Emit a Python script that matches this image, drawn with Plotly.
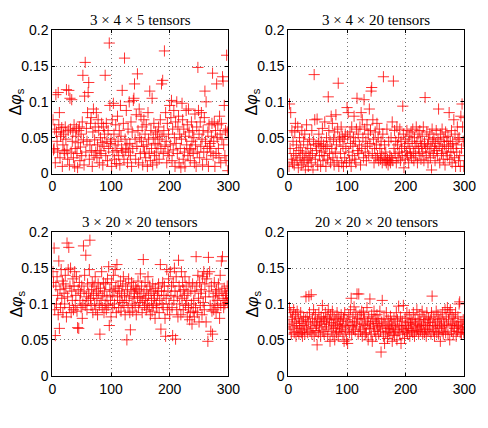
import plotly.graph_objects as go

titles = ["3 × 4 × 5 tensors", "3 × 4 × 20 tensors", "3 × 20 × 20 tensors", "20 × 20 × 20 tensors"]
x_ticks = [0, 100, 200, 300]
y_ticks = [0, 0.05, 0.1, 0.15, 0.2]
y_tick_text = ["0", "0.05", "0.1", "0.15", "0.2"]

dphi_3x4x5 = [
    0.075, 0.033, 0.035, 0.062, 0.015, 0.110, 0.058, 0.045, 0.030, 0.113, 0.068, 0.085, 0.022, 0.052, 0.058, 0.064, 0.010, 0.040, 0.055, 0.032, 0.028, 0.065, 0.048, 0.117, 0.033, 0.020, 0.060, 0.116, 0.012, 0.105,
    0.062, 0.030, 0.103, 0.045, 0.058, 0.022, 0.068, 0.010, 0.035, 0.052, 0.063, 0.028, 0.008, 0.043, 0.060, 0.065, 0.018, 0.037, 0.055, 0.025, 0.072, 0.137, 0.047, 0.012, 0.108, 0.155, 0.030, 0.063, 0.045, 0.085,
    0.113, 0.127, 0.020, 0.040, 0.070, 0.078, 0.032, 0.010, 0.058, 0.090, 0.025, 0.047, 0.065, 0.030, 0.085, 0.022, 0.040, 0.075, 0.060, 0.015, 0.032, 0.050, 0.028, 0.070, 0.043, 0.012, 0.065, 0.038, 0.055, 0.137,
    0.025, 0.070, 0.045, 0.018, 0.060, 0.035, 0.182, 0.095, 0.042, 0.048, 0.010, 0.075, 0.030, 0.098, 0.055, 0.020, 0.040, 0.068, 0.014, 0.032, 0.080, 0.045, 0.025, 0.060, 0.012, 0.095, 0.052, 0.035, 0.116, 0.030,
    0.070, 0.020, 0.161, 0.048, 0.033, 0.088, 0.040, 0.015, 0.062, 0.030, 0.100, 0.042, 0.025, 0.072, 0.010, 0.058, 0.035, 0.102, 0.105, 0.125, 0.048, 0.020, 0.082, 0.038, 0.139, 0.060, 0.015, 0.090, 0.050, 0.028,
    0.080, 0.045, 0.065, 0.012, 0.038, 0.075, 0.030, 0.055, 0.022, 0.068, 0.040, 0.010, 0.085, 0.048, 0.028, 0.115, 0.018, 0.060, 0.035, 0.105, 0.012, 0.050, 0.070, 0.025, 0.042, 0.058, 0.030, 0.015, 0.055, 0.040,
    0.065, 0.020, 0.048, 0.075, 0.035, 0.125, 0.052, 0.130, 0.028, 0.060, 0.171, 0.038, 0.085, 0.045, 0.015, 0.070, 0.030, 0.055, 0.025, 0.095, 0.040, 0.078, 0.102, 0.018, 0.062, 0.033, 0.088, 0.050, 0.010, 0.072,
    0.042, 0.100, 0.028, 0.065, 0.080, 0.015, 0.055, 0.035, 0.008, 0.048, 0.098, 0.075, 0.020, 0.062, 0.030, 0.010, 0.052, 0.088, 0.040, 0.068, 0.025, 0.090, 0.058, 0.033, 0.018, 0.035, 0.072, 0.045, 0.060, 0.028,
    0.050, 0.015, 0.083, 0.040, 0.010, 0.065, 0.030, 0.148, 0.088, 0.055, 0.022, 0.072, 0.038, 0.085, 0.048, 0.012, 0.060, 0.030, 0.078, 0.115, 0.045, 0.100, 0.020, 0.035, 0.058, 0.010, 0.068, 0.038, 0.042, 0.030,
    0.052, 0.070, 0.140, 0.025, 0.045, 0.072, 0.010, 0.060, 0.028, 0.125, 0.050, 0.068, 0.035, 0.022, 0.080, 0.055, 0.015, 0.070, 0.048, 0.135, 0.129, 0.040, 0.095, 0.025, 0.060, 0.018, 0.165, 0.058, 0.004, 0.062,
]

dphi_3x4x20 = [
    0.010, 0.097, 0.035, 0.085, 0.020, 0.060, 0.015, 0.045, 0.028, 0.012, 0.058, 0.070, 0.025, 0.040, 0.018, 0.065, 0.008, 0.032, 0.050, 0.022, 0.036, 0.012, 0.060, 0.028, 0.015, 0.045, 0.020, 0.055, 0.005, 0.030,
    0.068, 0.018, 0.040, 0.010, 0.025, 0.048, 0.022, 0.035, 0.015, 0.060, 0.028, 0.005, 0.045, 0.138, 0.075, 0.020, 0.040, 0.032, 0.076, 0.012, 0.042, 0.055, 0.025, 0.038, 0.010, 0.045, 0.030, 0.063, 0.018, 0.040,
    0.025, 0.072, 0.035, 0.010, 0.050, 0.038, 0.020, 0.107, 0.060, 0.028, 0.045, 0.015, 0.080, 0.035, 0.070, 0.022, 0.048, 0.012, 0.058, 0.030, 0.082, 0.040, 0.018, 0.062, 0.126, 0.010, 0.050, 0.045, 0.028, 0.065,
    0.015, 0.052, 0.038, 0.010, 0.048, 0.022, 0.055, 0.035, 0.015, 0.092, 0.052, 0.085, 0.030, 0.018, 0.058, 0.042, 0.010, 0.065, 0.025, 0.038, 0.050, 0.080, 0.020, 0.045, 0.015, 0.062, 0.105, 0.032, 0.055, 0.028,
    0.040, 0.065, 0.012, 0.085, 0.035, 0.075, 0.050, 0.022, 0.103, 0.062, 0.030, 0.045, 0.018, 0.068, 0.038, 0.055, 0.025, 0.090, 0.042, 0.060, 0.115, 0.120, 0.028, 0.075, 0.048, 0.015, 0.035, 0.058, 0.022, 0.040,
    0.070, 0.025, 0.050, 0.018, 0.062, 0.035, 0.020, 0.045, 0.028, 0.015, 0.055, 0.135, 0.022, 0.040, 0.018, 0.030, 0.015, 0.062, 0.020, 0.012, 0.045, 0.018, 0.025, 0.015, 0.050, 0.022, 0.072, 0.018, 0.129, 0.035,
    0.060, 0.028, 0.045, 0.015, 0.065, 0.040, 0.022, 0.050, 0.030, 0.062, 0.018, 0.045, 0.035, 0.025, 0.094, 0.055, 0.008, 0.038, 0.020, 0.048, 0.030, 0.060, 0.025, 0.042, 0.015, 0.052, 0.035, 0.028, 0.058, 0.022,
    0.045, 0.062, 0.030, 0.018, 0.050, 0.038, 0.025, 0.065, 0.042, 0.015, 0.055, 0.035, 0.028, 0.060, 0.045, 0.020, 0.038, 0.052, 0.030, 0.065, 0.018, 0.042, 0.106, 0.035, 0.025, 0.058, 0.040, 0.015, 0.048, 0.030,
    0.055, 0.022, 0.038, 0.005, 0.062, 0.045, 0.028, 0.050, 0.035, 0.018, 0.042, 0.060, 0.032, 0.025, 0.048, 0.090, 0.038, 0.015, 0.055, 0.045, 0.028, 0.062, 0.035, 0.020, 0.050, 0.040, 0.012, 0.058, 0.030, 0.045,
    0.025, 0.052, 0.038, 0.085, 0.020, 0.045, 0.030, 0.060, 0.015, 0.042, 0.035, 0.075, 0.022, 0.055, 0.010, 0.040, 0.030, 0.065, 0.048, 0.018, 0.050, 0.025, 0.010, 0.080, 0.035, 0.097, 0.065, 0.045, 0.010, 0.078,
]

dphi_3x20x20 = [
    0.145, 0.130, 0.178, 0.092, 0.056, 0.125, 0.100, 0.138, 0.112, 0.085, 0.160, 0.066, 0.120, 0.095, 0.148, 0.108, 0.132, 0.088, 0.128, 0.115, 0.100, 0.140, 0.122, 0.082, 0.185, 0.110, 0.148, 0.179, 0.095, 0.125,
    0.150, 0.088, 0.118, 0.105, 0.135, 0.092, 0.125, 0.145, 0.098, 0.112, 0.138, 0.090, 0.067, 0.120, 0.066, 0.130, 0.105, 0.115, 0.095, 0.125, 0.080, 0.100, 0.181, 0.118, 0.140, 0.098, 0.168, 0.110, 0.092, 0.128,
    0.105, 0.115, 0.148, 0.189, 0.108, 0.098, 0.120, 0.130, 0.088, 0.112, 0.125, 0.100, 0.138, 0.092, 0.118, 0.108, 0.085, 0.128, 0.115, 0.098, 0.058, 0.122, 0.105, 0.145, 0.095, 0.112, 0.130, 0.088, 0.118, 0.100,
    0.128, 0.092, 0.110, 0.135, 0.098, 0.152, 0.070, 0.120, 0.105, 0.082, 0.130, 0.112, 0.095, 0.140, 0.118, 0.100, 0.148, 0.122, 0.088, 0.155, 0.110, 0.125, 0.095, 0.118, 0.105, 0.132, 0.090, 0.115, 0.102, 0.125,
    0.138, 0.098, 0.112, 0.085, 0.128, 0.105, 0.050, 0.120, 0.095, 0.135, 0.110, 0.088, 0.064, 0.118, 0.130, 0.100, 0.090, 0.125, 0.108, 0.115, 0.098, 0.122, 0.085, 0.120, 0.110, 0.132, 0.095, 0.118, 0.102, 0.142,
    0.110, 0.125, 0.088, 0.105, 0.162, 0.115, 0.098, 0.130, 0.108, 0.092, 0.120, 0.100, 0.138, 0.112, 0.095, 0.125, 0.085, 0.118, 0.105, 0.090, 0.128, 0.098, 0.115, 0.108, 0.080, 0.122, 0.100, 0.095, 0.112, 0.118,
    0.128, 0.088, 0.105, 0.155, 0.065, 0.118, 0.100, 0.130, 0.095, 0.112, 0.125, 0.080, 0.055, 0.108, 0.148, 0.092, 0.118, 0.135, 0.100, 0.085, 0.145, 0.112, 0.125, 0.095, 0.056, 0.130, 0.105, 0.150, 0.118, 0.051,
    0.138, 0.092, 0.110, 0.082, 0.161, 0.125, 0.100, 0.118, 0.085, 0.145, 0.108, 0.130, 0.092, 0.120, 0.112, 0.138, 0.098, 0.125, 0.105, 0.082, 0.115, 0.095, 0.130, 0.078, 0.088, 0.118, 0.100, 0.072, 0.128, 0.090,
    0.105, 0.082, 0.118, 0.095, 0.166, 0.125, 0.088, 0.140, 0.108, 0.075, 0.130, 0.098, 0.115, 0.120, 0.085, 0.138, 0.102, 0.145, 0.092, 0.128, 0.110, 0.075, 0.135, 0.142, 0.048, 0.165, 0.118, 0.145, 0.098, 0.062,
    0.125, 0.090, 0.058, 0.110, 0.092, 0.130, 0.100, 0.115, 0.088, 0.120, 0.105, 0.095, 0.128, 0.112, 0.080, 0.140, 0.098, 0.160, 0.118, 0.166, 0.108, 0.095, 0.122, 0.100, 0.115, 0.105, 0.112, 0.125, 0.102, 0.108,
]

dphi_20x20x20 = [
    0.072, 0.095, 0.065, 0.088, 0.058, 0.078, 0.082, 0.068, 0.092, 0.060, 0.075, 0.085, 0.055, 0.070, 0.090, 0.062, 0.080, 0.058, 0.073, 0.066, 0.088, 0.060, 0.076, 0.055, 0.070, 0.082, 0.064, 0.058, 0.078, 0.110,
    0.068, 0.082, 0.060, 0.075, 0.111, 0.088, 0.062, 0.072, 0.113, 0.058, 0.080, 0.066, 0.092, 0.055, 0.075, 0.085, 0.063, 0.070, 0.043, 0.078, 0.060, 0.088, 0.068, 0.075, 0.055, 0.082, 0.072, 0.098, 0.062, 0.080,
    0.058, 0.076, 0.088, 0.065, 0.072, 0.082, 0.055, 0.092, 0.068, 0.078, 0.048, 0.085, 0.062, 0.074, 0.090, 0.058, 0.070, 0.080, 0.050, 0.066, 0.078, 0.060, 0.088, 0.072, 0.055, 0.082, 0.068, 0.062, 0.076, 0.085,
    0.065, 0.072, 0.058, 0.080, 0.048, 0.088, 0.062, 0.070, 0.050, 0.078, 0.045, 0.068, 0.085, 0.060, 0.075, 0.092, 0.108, 0.058, 0.070, 0.082, 0.065, 0.096, 0.075, 0.062, 0.088, 0.072, 0.114, 0.080, 0.058, 0.114,
    0.068, 0.085, 0.062, 0.078, 0.090, 0.055, 0.072, 0.088, 0.065, 0.080, 0.058, 0.070, 0.060, 0.095, 0.075, 0.050, 0.082, 0.066, 0.107, 0.072, 0.058, 0.085, 0.048, 0.076, 0.068, 0.090, 0.062, 0.080, 0.055, 0.073,
    0.085, 0.065, 0.078, 0.058, 0.070, 0.090, 0.062, 0.033, 0.075, 0.105, 0.068, 0.055, 0.080, 0.045, 0.072, 0.060, 0.088, 0.066, 0.052, 0.078, 0.062, 0.070, 0.058, 0.083, 0.065, 0.075, 0.048, 0.068, 0.060, 0.080,
    0.056, 0.072, 0.065, 0.088, 0.050, 0.078, 0.062, 0.097, 0.070, 0.058, 0.082, 0.045, 0.068, 0.076, 0.060, 0.098, 0.065, 0.052, 0.080, 0.070, 0.062, 0.088, 0.058, 0.074, 0.066, 0.085, 0.055, 0.072, 0.078, 0.063,
    0.075, 0.060, 0.088, 0.068, 0.055, 0.080, 0.072, 0.062, 0.092, 0.065, 0.078, 0.058, 0.070, 0.085, 0.062, 0.075, 0.068, 0.090, 0.058, 0.072, 0.082, 0.060, 0.078, 0.065, 0.055, 0.088, 0.070, 0.062, 0.080, 0.074,
    0.065, 0.078, 0.058, 0.088, 0.111, 0.070, 0.062, 0.082, 0.055, 0.075, 0.068, 0.090, 0.060, 0.072, 0.085, 0.058, 0.078, 0.066, 0.048, 0.080, 0.070, 0.062, 0.088, 0.058, 0.075, 0.068, 0.092, 0.060, 0.082, 0.072,
    0.095, 0.058, 0.078, 0.088, 0.050, 0.092, 0.070, 0.062, 0.085, 0.072, 0.058, 0.080, 0.066, 0.075, 0.088, 0.055, 0.070, 0.062, 0.082, 0.068, 0.100, 0.103, 0.060, 0.075, 0.058, 0.072, 0.065, 0.078, 0.060, 0.068,
]

series = [dphi_3x4x5, dphi_3x4x20, dphi_3x20x20, dphi_20x20x20]

W, H = 488, 428
# plot-area pixel boxes (left, right, top, bottom)
boxes = [(50, 232, 23, 172), (294, 476, 23, 172), (50, 232, 233, 382), (294, 476, 233, 382)]

fig = go.Figure()
annotations = []
for i, (vals, box) in enumerate(zip(series, boxes)):
    n = i + 1
    xa = "x" if n == 1 else f"x{n}"
    ya = "y" if n == 1 else f"y{n}"
    fig.add_trace(go.Scatter(
        x=list(range(1, len(vals) + 1)), y=vals, mode="markers",
        xaxis=xa, yaxis=ya, showlegend=False,
        marker=dict(symbol="cross-thin", size=8, color="rgba(255,0,0,0.8)",
                    line=dict(color="rgba(255,0,0,0.8)", width=1)),
    ))
    l, r, t, b = box
    axis_common = dict(
        showline=True, linecolor="black", linewidth=1, mirror="ticks",
        ticks="inside", ticklen=3, tickcolor="black",
        showgrid=True, gridcolor="#777777", griddash="1px,3px", gridwidth=1,
        zeroline=False, tickfont=dict(family="Liberation Sans, Arial", size=14, color="black"),
    )
    xkey = "xaxis" if n == 1 else f"xaxis{n}"
    ykey = "yaxis" if n == 1 else f"yaxis{n}"
    fig.update_layout(**{
        xkey: dict(domain=[l / W, r / W], range=[0, 300], anchor=ya,
                   tickvals=x_ticks, ticktext=[str(v) for v in x_ticks], **axis_common),
        ykey: dict(domain=[1 - b / H, 1 - t / H], range=[0, 0.2], anchor=xa,
                   tickvals=y_ticks, ticktext=y_tick_text, **axis_common),
    })
    annotations.append(dict(
        text=titles[i], x=(l + r) / 2 / W, y=1 - (t - 11) / H, xref="paper", yref="paper",
        showarrow=False, xanchor="center", yanchor="middle",
        font=dict(family="Liberation Serif, Times New Roman", size=15, color="black"),
    ))
    annotations.append(dict(
        text="Δ<i>φ</i><sub>s</sub>", x=(l - 37) / W, y=1 - ((t + b) / 2) / H,
        xref="paper", yref="paper", showarrow=False, textangle=-90,
        xanchor="center", yanchor="middle",
        font=dict(family="Liberation Sans, Arial", size=16, color="black"),
    ))

fig.update_layout(
    width=W, height=H, margin=dict(l=0, r=0, t=0, b=0),
    paper_bgcolor="white", plot_bgcolor="white",
    annotations=annotations,
)
fig.write_html("out.html")
